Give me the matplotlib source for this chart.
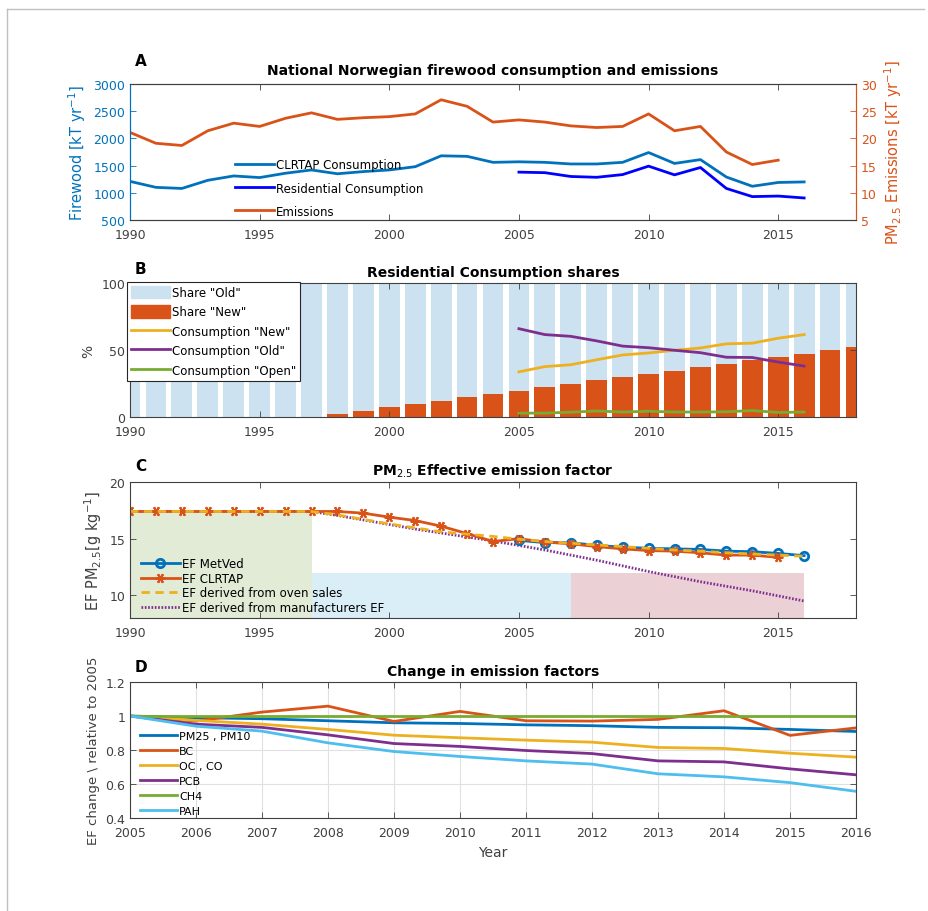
import numpy as np
import matplotlib
matplotlib.use("Agg")
import matplotlib.pyplot as plt
from matplotlib.patches import Patch
from matplotlib.lines import Line2D

# ---- data ----
years_a = list(range(1990, 2017))
clrtap_cons = [1210, 1100, 1080, 1230, 1310, 1280, 1360, 1420, 1350, 1390, 1420, 1480, 1680, 1670,
               1560, 1570, 1560, 1530, 1530, 1560, 1740, 1540, 1610, 1290, 1120, 1190, 1200]
years_res = list(range(2005, 2017))
resid_cons = [1380, 1370, 1300, 1285, 1335, 1490, 1330, 1465, 1080, 930, 940, 905]
years_em = list(range(1990, 2016))
emissions = [21.1, 19.1, 18.7, 21.4, 22.8, 22.2, 23.7, 24.7, 23.5, 23.8, 24.0, 24.5, 27.1, 25.9,
             23.0, 23.4, 23.0, 22.3, 22.0, 22.2, 24.5, 21.4, 22.2, 17.5, 15.2, 16.0]

years_b = list(range(1990, 2019))
share_new = [0, 0, 0, 0, 0, 0, 0, 0, 2.2, 4.6, 7.1, 9.7, 12.1, 14.6, 17.2, 19.7, 22.2, 24.8,
             27.3, 29.8, 32.2, 34.7, 37.2, 39.7, 42.2, 44.8, 47.3, 49.8, 52.2]
cons_new = [33.7, 37.6, 39.0, 42.7, 46.3, 47.8, 49.8, 51.5, 54.6, 55.1, 58.8, 61.5]
cons_old = [65.9, 61.5, 60.2, 56.8, 52.9, 51.7, 49.8, 48.0, 44.6, 44.4, 41.0, 38.0]
cons_open = [2.9, 2.9, 3.6, 4.5, 3.7, 4.3, 3.7, 3.7, 3.9, 4.8, 3.4, 3.7]

ef_metved_years = list(range(2005, 2017))
ef_metved = [14.85, 14.65, 14.65, 14.4, 14.25, 14.15, 14.1, 14.05, 13.9, 13.85, 13.7, 13.5]
ef_clrtap_years = list(range(1990, 2016))
ef_clrtap = [17.4, 17.4, 17.4, 17.4, 17.4, 17.4, 17.4, 17.4, 17.4, 17.25, 16.9, 16.6, 16.1,
             15.45, 14.75, 15.0, 14.7, 14.55, 14.3, 14.1, 13.95, 13.9, 13.75, 13.55, 13.55, 13.35]
ef_years = list(range(1990, 2017))
ef_sales = [17.4, 17.4, 17.4, 17.4, 17.4, 17.4, 17.4, 17.4, 17.1, 16.7, 16.3, 15.95, 15.6,
            15.4, 15.2, 14.95, 14.75, 14.6, 14.45, 14.3, 14.15, 14.0, 13.9, 13.75, 13.65,
            13.55, 13.45]
ef_manuf = [17.4, 17.4, 17.4, 17.4, 17.4, 17.4, 17.4, 17.4, 17.05, 16.65, 16.25, 15.85, 15.5,
            15.15, 14.8, 14.4, 14.0, 13.55, 13.1, 12.6, 12.1, 11.65, 11.2, 10.8, 10.4, 9.95, 9.5]
# shaded periods: (start, end, top, colour)
periods = [(1990, 1997, 17.4, '#E2EBD6'), (1997, 2007, 12, '#DAEEF8'), (2007, 2016, 12, '#EBD0D6')]

years_d = list(range(2005, 2017))
ef_pm = [1.0, 0.99, 0.984, 0.972, 0.96, 0.956, 0.948, 0.943, 0.933, 0.931, 0.921, 0.909]
ef_bc = [1.0, 0.97, 1.023, 1.058, 0.968, 1.027, 0.972, 0.97, 0.98, 1.031, 0.886, 0.93]
ef_oc = [1.0, 0.974, 0.952, 0.921, 0.887, 0.872, 0.858, 0.846, 0.815, 0.809, 0.781, 0.758]
ef_pcb = [1.0, 0.952, 0.933, 0.889, 0.838, 0.821, 0.797, 0.779, 0.736, 0.73, 0.689, 0.654]
ef_ch4 = [1.0] * 12
ef_pah = [1.0, 0.94, 0.911, 0.842, 0.791, 0.762, 0.736, 0.717, 0.66, 0.642, 0.608, 0.557]

c_blue = '#0072BD'
c_orange = '#D95319'
c_yellow = '#EDB120'
c_purple = '#7E2F8E'
c_green = '#77AC30'
c_cyan = '#4DBEEE'
c_ax = '#404040'

plt.rcParams['font.family'] = 'DejaVu Sans'
plt.rcParams['xtick.direction'] = 'in'
plt.rcParams['ytick.direction'] = 'in'
plt.rcParams['xtick.labelsize'] = 9
plt.rcParams['ytick.labelsize'] = 9
plt.rcParams['xtick.major.pad'] = 6
plt.rcParams['xtick.color'] = c_ax
plt.rcParams['ytick.color'] = c_ax
plt.rcParams['axes.edgecolor'] = c_ax
plt.rcParams['axes.linewidth'] = 0.8

fig = plt.figure(figsize=(9.29, 9.12), dpi=100)
# light frame (left and top edges only)
fx, fy = 7 / 929, 1 - 10 / 912
fig.add_artist(Line2D([fx, fx], [0, fy], transform=fig.transFigure, color='#c0c0c0', lw=1))
fig.add_artist(Line2D([fx, 0.995], [fy, fy], transform=fig.transFigure, color='#c0c0c0', lw=1))

L, W = 130 / 929, 726 / 929


def box(top, bottom):
    return [L, 1 - bottom / 912, W, (bottom - top) / 912]


def style(ax):
    ax.tick_params(top=True, right=True, length=4, width=0.6)


# ---- A ----
ax = fig.add_axes(box(85, 221))
ax2 = ax.twinx()
l1, = ax.plot(years_a, clrtap_cons, color=c_blue, lw=2)
l2, = ax.plot(years_res, resid_cons, color='#0000FF', lw=2)
l3, = ax2.plot(years_em, emissions, color=c_orange, lw=2)
ax.set_xlim(1990, 2018)
ax.set_ylim(500, 3000)
ax2.set_ylim(5, 30)
ax.set_xticks([1990, 1995, 2000, 2005, 2010, 2015])
ax.set_yticks(range(500, 3001, 500))
ax2.set_yticks(range(5, 31, 5))
ax.tick_params(axis='x', top=True, length=4, width=0.6)
ax.tick_params(axis='y', colors=c_blue, length=4, width=0.6)
ax2.tick_params(axis='y', colors=c_orange, length=4, width=0.6)
ax2.spines['left'].set_color(c_blue)
ax2.spines['right'].set_color(c_orange)
ax.spines['left'].set_color(c_blue)
ax.spines['right'].set_color(c_orange)
ax.set_ylabel('Firewood [kT yr$^{-1}$]', color=c_blue, fontsize=10.5)
ax2.set_ylabel('PM$_{2.5}$ Emissions [kT yr$^{-1}$]', color=c_orange, fontsize=10.5)
ax.set_title('National Norwegian firewood consumption and emissions', fontsize=10,
             fontweight='bold', pad=7)
ax2.legend([l1, l2, l3], ['CLRTAP Consumption', 'Residential Consumption', 'Emissions'],
           loc='lower left', bbox_to_anchor=(0.13, -0.06), frameon=False, fontsize=8.5,
           handlelength=3.3, labelspacing=0.85, handletextpad=0.2)
fig.text(135 / 929, 1 - 62 / 912, 'A', fontsize=11, fontweight='bold', va='center')

# ---- B ----
ax = fig.add_axes(box(284, 418))
style(ax)
old = [100 - v for v in share_new]
ax.bar(years_b, share_new, width=0.8, color=c_orange)
ax.bar(years_b, old, bottom=share_new, width=0.8, color='#CCE2F0')
ax.plot(years_res, cons_new, color=c_yellow, lw=2)
ax.plot(years_res, cons_old, color=c_purple, lw=2)
ax.plot(years_res, cons_open, color=c_green, lw=2)
ax.set_xlim(1990, 2018)
ax.set_ylim(0, 100)
ax.set_xticks([1990, 1995, 2000, 2005, 2010, 2015])
ax.set_yticks([0, 50, 100])
ax.set_ylabel('%', fontsize=10, color=c_ax)
ax.set_title('Residential Consumption shares', fontsize=10, fontweight='bold', pad=5)
handles = [Patch(color='#CCE2F0'), Patch(color=c_orange),
           Line2D([], [], color=c_yellow, lw=2), Line2D([], [], color=c_purple, lw=2),
           Line2D([], [], color=c_green, lw=2)]
leg = ax.legend(handles, ['Share "Old"', 'Share "New"', 'Consumption "New"', 'Consumption "Old"',
                          'Consumption "Open"'],
                loc='upper left', bbox_to_anchor=(-0.004, 1.005), fontsize=8.5, fancybox=False,
                framealpha=1, edgecolor='#262626', handlelength=3.3, handleheight=1.2,
                labelspacing=0.55, handletextpad=0.2, borderpad=0.3, borderaxespad=0)
leg.get_frame().set_linewidth(0.8)
fig.text(135 / 929, 1 - 270 / 912, 'B', fontsize=11, fontweight='bold', va='center')

# ---- C ----
ax = fig.add_axes(box(483, 619))
style(ax)
for x0, x1, top, col in periods:
    ax.fill_between([x0, x1], 8, top, color=col, lw=0)
ax.plot(ef_years, ef_manuf, color=c_purple, lw=2, ls=(0, (0.6, 0.6)),
        label='EF derived from manufacturers EF')
ax.plot(ef_metved_years, ef_metved, color=c_blue, lw=2, marker='o', ms=6, mfc='none', mew=2,
        label='EF MetVed')
ax.plot(ef_clrtap_years, ef_clrtap, color=c_orange, lw=2, marker=(6, 2, 90), ms=7, mew=1.5,
        label='EF CLRTAP')
ax.plot(ef_years, ef_sales, color=c_yellow, lw=2, ls=(0, (3, 2)),
        label='EF derived from oven sales')
ax.set_xlim(1990, 2018)
ax.set_ylim(8, 20)
ax.set_xticks([1990, 1995, 2000, 2005, 2010, 2015])
ax.set_yticks([10, 15, 20])
ax.set_ylabel('EF PM$_{2.5}$[g kg$^{-1}$]', fontsize=10.5, color=c_ax)
ax.set_title('PM$_{2.5}$ Effective emission factor', fontsize=10, fontweight='bold', pad=5)
h, lab = ax.get_legend_handles_labels()
order = [1, 2, 3, 0]
ax.legend([h[i] for i in order], [lab[i] for i in order], loc='lower left',
          bbox_to_anchor=(0.0, -0.05), frameon=False, fontsize=8.5, handlelength=3.3,
          labelspacing=0.15, handletextpad=0.2)
fig.text(135 / 929, 1 - 467 / 912, 'C', fontsize=11, fontweight='bold', va='center')

# ---- D ----
ax = fig.add_axes(box(683, 819))
style(ax)
ax.grid(True, color='#e0e0e0', lw=0.8)
series_d = [(ef_pm, c_blue, 'PM25 , PM10'), (ef_bc, c_orange, 'BC'), (ef_oc, c_yellow, 'OC , CO'),
            (ef_pcb, c_purple, 'PCB'), (ef_ch4, c_green, 'CH4'), (ef_pah, c_cyan, 'PAH')]
for vals, col, name in series_d:
    ax.plot(years_d, vals, color=col, lw=2, label=name)
ax.set_xlim(2005, 2016)
ax.set_ylim(0.4, 1.2)
ax.set_xticks(years_d)
ax.set_yticks([0.4, 0.6, 0.8, 1.0, 1.2])
ax.set_yticklabels(['0.4', '0.6', '0.8', '1', '1.2'])
ax.set_xlabel('Year', fontsize=10, color=c_ax)
ax.set_ylabel('EF change \\ relative to 2005', fontsize=9.5, color=c_ax)
ax.set_title('Change in emission factors', fontsize=10, fontweight='bold', pad=5)
ax.legend(loc='lower left', bbox_to_anchor=(0.0, -0.06), frameon=False, fontsize=8,
          handlelength=3.3, labelspacing=0.45, handletextpad=0.2)
fig.text(135 / 929, 1 - 668 / 912, 'D', fontsize=11, fontweight='bold', va='center')

fig.savefig('out.png', dpi=100)
